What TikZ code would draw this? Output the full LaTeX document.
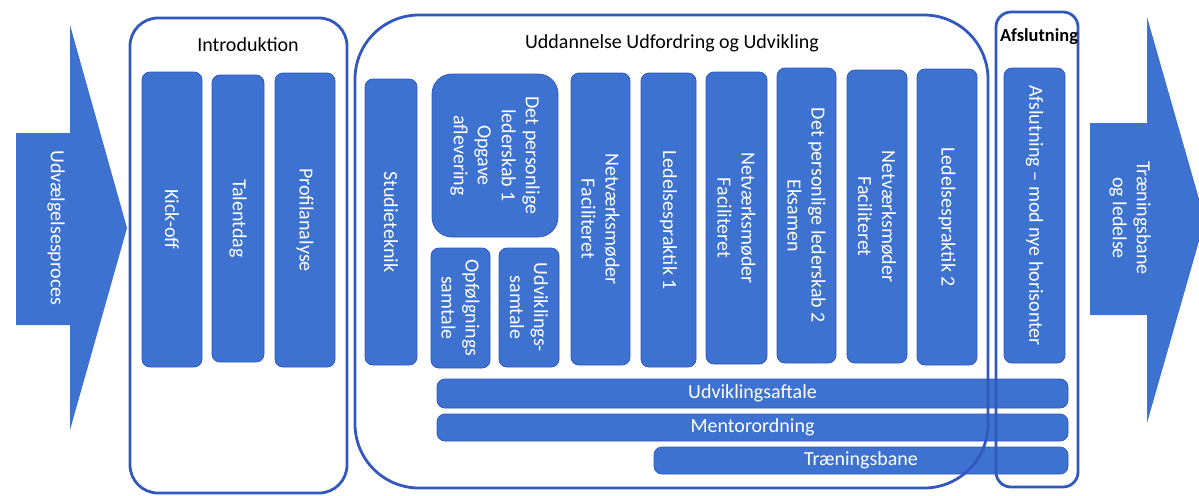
\documentclass[tikz,border=0pt]{standalone}
\usepackage{fontspec}
\setmainfont{Carlito}
\definecolor{fillblue}{RGB}{62,114,208}
\definecolor{lineblue}{RGB}{50,88,192}
\begin{document}
\begin{tikzpicture}[x=0.5pt,y=-0.5pt,
  txt/.style={font=\fontsize{10}{12}\selectfont},
  vbar/.style={txt, rectangle, rounded corners=4pt, fill=fillblue, draw=lineblue, line width=0.4pt, rotate=-90, text=white, align=center, inner sep=0pt},
  hbar/.style={txt, rectangle, rounded corners=4pt, fill=fillblue, draw=lineblue, line width=0.4pt, text=white, align=center, inner sep=0pt},
  frame/.style={rectangle, draw=lineblue, line width=1.4pt, inner sep=0pt},
  title/.style={txt, text=black},
  bigarrow/.style={fill=fillblue, draw=none},
  arrowtext/.style={txt, text=white, rotate=-90, align=center}]
\useasboundingbox (0,0) rectangle (1199,495);
\clip (0,0) rectangle (1199,495);
% side arrows
\fill[bigarrow] (16,133) -- (70,133) -- (70,25) -- (127,228) -- (70,430) -- (70,325) -- (16,325) -- cycle;
\node[arrowtext] (inarrow) at (56,228) {Udvælgelsesproces};
\fill[bigarrow] (1090,123) -- (1147,123) -- (1147,17) -- (1205,220) -- (1147,423) -- (1147,315) -- (1090,315) -- cycle;
\node[arrowtext] (outarrow) at (1130,218) {Træningsbane\\og ledelse};
% Introduktion bars
\node[vbar, minimum width=147.5pt, minimum height=30pt] (kick) at (172,219.5) {Kick-off};
\node[vbar, minimum width=143.5pt, minimum height=26pt] (talent) at (238,218.5) {Talentdag};
\node[vbar, minimum width=147pt, minimum height=30pt] (profil) at (305,220) {Profilanalyse};
% Uddannelse bars
\node[vbar, minimum width=143pt, minimum height=26pt] (studie) at (391,222) {Studieteknik};
\node[vbar, rounded corners=10pt, minimum width=81.5pt, minimum height=63pt] (dpl1) at (495,155.5) {Det personlige\\lederskab 1\\Opgave\\aflevering};
\node[vbar, minimum width=60pt, minimum height=29.5pt] (opf) at (460.5,308) {Opfølgnings\\samtale};
\node[vbar, minimum width=59.5pt, minimum height=30pt] (udvs) at (529,307.5) {Udviklings-\\samtale};
\node[vbar, minimum width=146pt, minimum height=29.5pt] (net1) at (600.5,219) {Netværksmøder\\Faciliteret};
\node[vbar, minimum width=147pt, minimum height=27.5pt] (led1) at (668.5,220) {Ledelsespraktik 1};
\node[vbar, minimum width=146pt, minimum height=30.5pt] (net2) at (736.5,218) {Netværksmøder\\Faciliteret};
\node[vbar, minimum width=147.5pt, minimum height=29.5pt] (dpl2) at (806.5,215.5) {Det personlige lederskab 2\\Eksamen};
\node[vbar, minimum width=146.5pt, minimum height=30pt] (net3) at (877,216.5) {Netværksmøder\\Faciliteret};
\node[vbar, minimum width=148pt, minimum height=30pt] (led2) at (947,217) {Ledelsespraktik 2};
\node[vbar, minimum width=147.5pt, minimum height=30.5pt] (afsl) at (1034.5,215.5) {Afslutning – mod nye horisonter};
% horizontal bars
\node[hbar, minimum width=315.5pt, minimum height=14.5pt] (udvaft) at (752.5,393.5) {Udviklingsaftale};
\node[hbar, minimum width=315.5pt, minimum height=13.5pt] (mentor) at (752.5,427.5) {Mentorordning};
\node[hbar, minimum width=207pt, minimum height=13.5pt] (trb) at (861,460.5) {Træningsbane};
% frames
\node[frame, rounded corners=14pt, minimum width=108.5pt, minimum height=237.5pt] (intro) at (238.5,255.5) {};
\node[frame, rounded corners=32pt, minimum width=316.5pt, minimum height=236.5pt] (udd) at (671.5,251.5) {};
\node[frame, rounded corners=7.5pt, minimum width=41pt, minimum height=237.5pt] (afs) at (1037,249.5) {};
% titles
\node[title] (introtitle) at (248,45) {Introduktion};
\node[title] (uddtitle) at (672,43) {Uddannelse Udfordring og Udvikling};
\node[title, font=\fontsize{9.2}{11}\selectfont\bfseries] (afstitle) at (1039,37) {Afslutning};
\end{tikzpicture}
\end{document}
